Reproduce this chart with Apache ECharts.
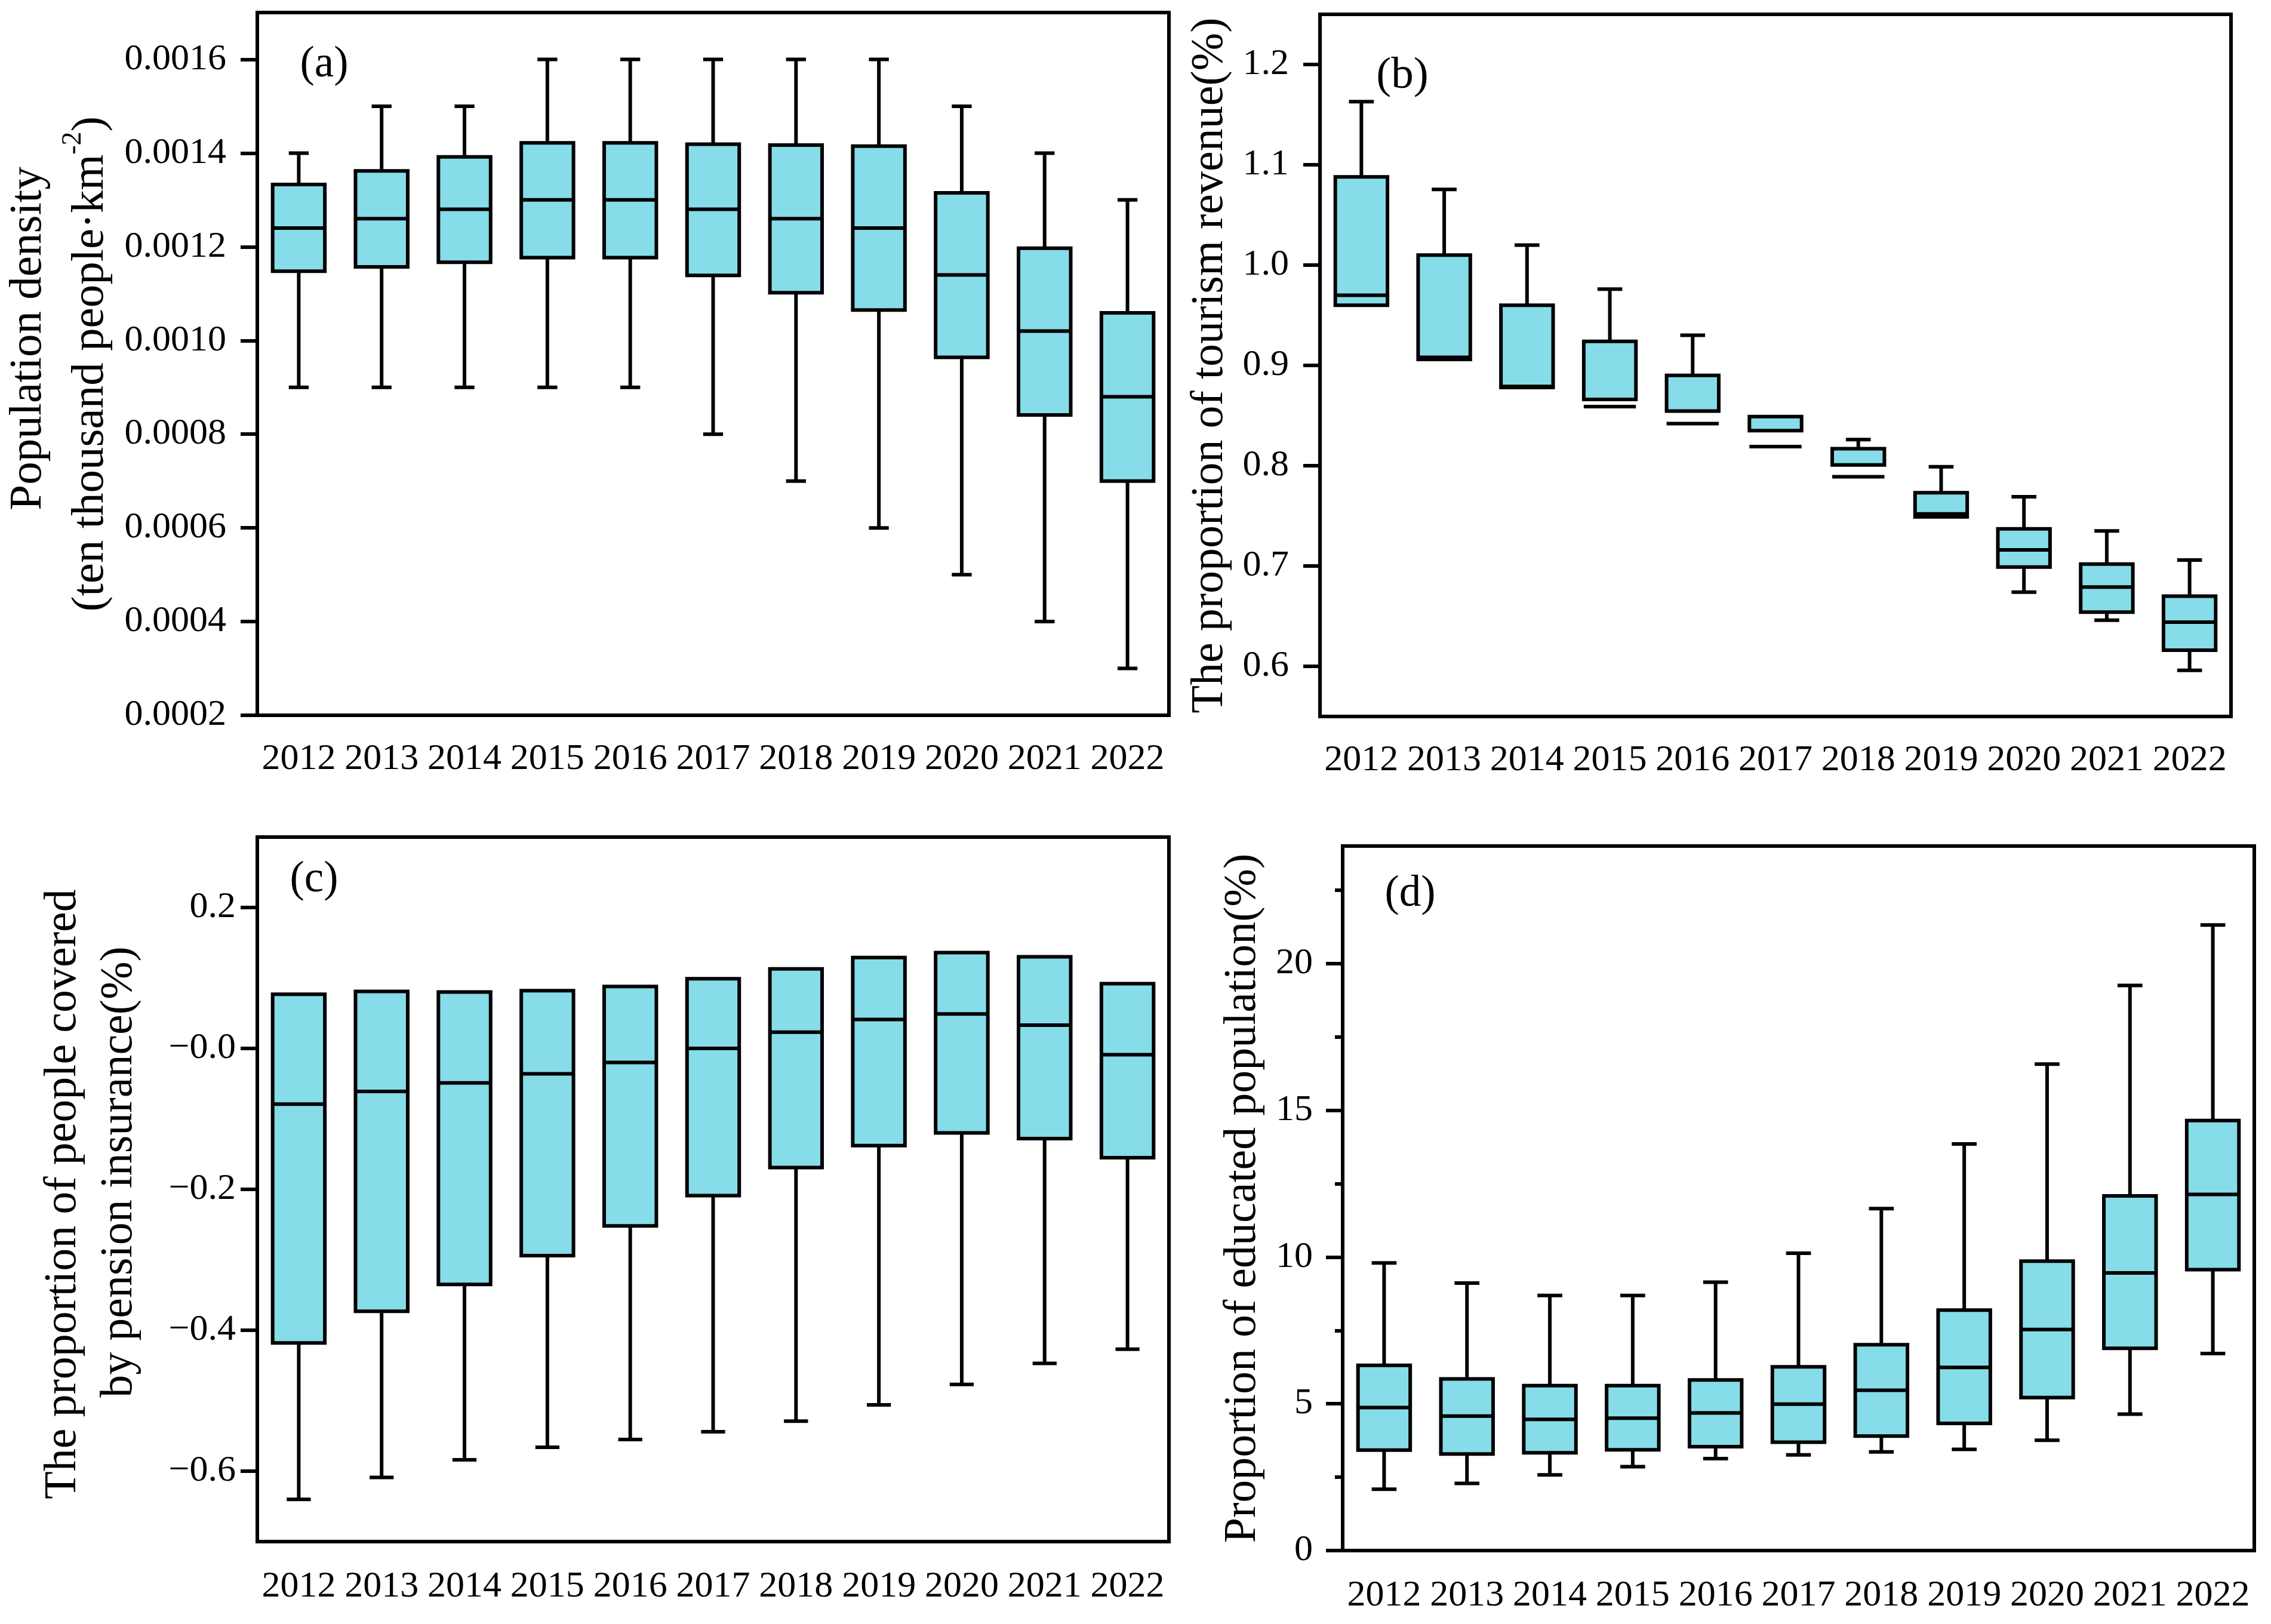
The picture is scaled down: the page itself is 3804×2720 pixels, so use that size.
<!DOCTYPE html>
<html>
<head>
<meta charset="utf-8">
<script src="https://cdn.jsdelivr.net/npm/echarts@6/dist/echarts.min.js"></script>
<style>
html,body{margin:0;padding:0;background:#ffffff;}
#c{width:3804px;height:2720px;}
</style>
</head>
<body>
<div id="c"></div>
<script>
const years = ['2012','2013','2014','2015','2016','2017','2018','2019','2020','2021','2022'];

// (a) Population density
const aMin = [0.0009,0.0009,0.0009,0.0009,0.0009,0.0008,0.0007,0.0006,0.0005,0.0004,0.0003];
const aQ1  = [0.001148,0.001157,0.001167,0.001177,0.001177,0.001139,0.001102,0.001065,0.000964,0.000841,0.0007];
const aMed = [0.00124,0.00126,0.00128,0.0013,0.0013,0.00128,0.00126,0.00124,0.00114,0.00102,0.00088];
const aQ3  = [0.001333,0.001362,0.001392,0.001422,0.001422,0.001419,0.001417,0.001415,0.001315,0.001197,0.001059];
const aMax = [0.0014,0.0015,0.0015,0.0016,0.0016,0.0016,0.0016,0.0016,0.0015,0.0014,0.0013];
const aTicks = [0.0002,0.0004,0.0006,0.0008,0.0010,0.0012,0.0014,0.0016];

// (b) Proportion of tourism revenue
const bMin = [0.960,0.906,0.878,0.866,0.8545,0.835,0.8007,0.749,0.674,0.646,0.596];
const bQ1  = [0.960,0.906,0.878,0.866,0.8545,0.835,0.8007,0.749,0.699,0.654,0.616];
const bMed = [0.970,0.908,0.879,0.859,0.842,0.819,0.789,0.752,0.716,0.679,0.644];
const bQ3  = [1.088,1.010,0.960,0.924,0.890,0.849,0.817,0.773,0.737,0.702,0.670];
const bMax = [1.163,1.0755,1.020,0.976,0.930,0.849,0.826,0.799,0.769,0.735,0.706];
const bTicks = [0.6,0.7,0.8,0.9,1.0,1.1,1.2];

// (c) Proportion of people covered by pension insurance
const cMin = [-0.640,-0.609,-0.584,-0.566,-0.555,-0.544,-0.529,-0.506,-0.477,-0.447,-0.427];
const cQ1  = [-0.418,-0.373,-0.335,-0.294,-0.252,-0.209,-0.169,-0.138,-0.120,-0.128,-0.155];
const cMed = [-0.079,-0.061,-0.049,-0.036,-0.020,0.000,0.023,0.041,0.049,0.033,-0.009];
const cQ3  = [0.077,0.081,0.080,0.082,0.088,0.099,0.113,0.129,0.136,0.130,0.092];
const cMax = [0.077,0.081,0.080,0.082,0.088,0.099,0.113,0.129,0.136,0.130,0.092];
const cTicks = [-0.6,-0.4,-0.2,0,0.2];

// (d) Proportion of educated population
const dMin = [2.09,2.29,2.58,2.86,3.13,3.26,3.36,3.45,3.76,4.65,6.71];
const dQ1  = [3.42,3.29,3.33,3.43,3.54,3.69,3.90,4.33,5.21,6.89,9.57];
const dMed = [4.87,4.58,4.47,4.51,4.69,4.99,5.46,6.24,7.53,9.46,12.13];
const dQ3  = [6.31,5.85,5.62,5.62,5.81,6.26,7.01,8.19,9.86,12.08,14.65];
const dMax = [9.80,9.11,8.69,8.69,9.14,10.13,11.65,13.85,16.57,19.25,21.31];
const dTicks = [0,5,10,15,20];
const dMinorTicks = [2.5,7.5,12.5,17.5,22.5];

const FONT = 'Liberation Serif';
const BOX = '#86dce8';
const LW = 6;

function rows(mn, q1, md, q3, mx) {
  return years.map((y, i) => [i, mn[i], q1[i], md[i], q3[i], mx[i]]);
}

function makeRender(boxFrac, capFrac) {
  return function (params, api) {
    const i = api.value(0);
    const lo = api.value(1), q1 = api.value(2), md = api.value(3), q3 = api.value(4), hi = api.value(5);
    const band = api.size([1, 0])[0];
    const bw = band * boxFrac, cw = band * capFrac;
    const cx = api.coord([i, q1])[0];
    const yLo = api.coord([i, lo])[1];
    const yQ1 = api.coord([i, q1])[1];
    const yMd = api.coord([i, md])[1];
    const yQ3 = api.coord([i, q3])[1];
    const yHi = api.coord([i, hi])[1];
    const ls = { stroke: '#000', lineWidth: LW, fill: null };
    const ch = [];
    if (hi > q3) {
      ch.push({ type: 'line', shape: { x1: cx, y1: yQ3, x2: cx, y2: yHi }, style: ls });
      ch.push({ type: 'line', shape: { x1: cx - cw / 2, y1: yHi, x2: cx + cw / 2, y2: yHi }, style: ls });
    }
    if (lo < q1) {
      ch.push({ type: 'line', shape: { x1: cx, y1: yQ1, x2: cx, y2: yLo }, style: ls });
      ch.push({ type: 'line', shape: { x1: cx - cw / 2, y1: yLo, x2: cx + cw / 2, y2: yLo }, style: ls });
    }
    ch.push({ type: 'rect', shape: { x: cx - bw / 2, y: yQ3, width: bw, height: yQ1 - yQ3 },
      style: { fill: BOX, stroke: '#000', lineWidth: LW } });
    ch.push({ type: 'line', shape: { x1: cx - bw / 2, y1: yMd, x2: cx + bw / 2, y2: yMd }, style: ls });
    return { type: 'group', children: ch };
  };
}

const lineStyle = { color: '#000', width: LW };

function grid(left, top, width, height) {
  return { left, top, width, height, show: true, borderColor: '#000', borderWidth: LW, backgroundColor: 'transparent' };
}

function xAx(g, margin) {
  return {
    type: 'category', gridIndex: g, data: years, boundaryGap: true,
    axisLine: { onZero: false, lineStyle },
    axisTick: { alignWithLabel: true, length: 28, lineStyle },
    axisLabel: { interval: 0, margin, color: '#000', fontSize: 62, fontFamily: FONT },
    splitLine: { show: false }
  };
}

function yAx(g, min, max, interval, ticks, fmt, margin, name, nameGap, nameStyle) {
  return {
    type: 'value', gridIndex: g, min, max, interval, position: 'left',
    axisLine: { show: true, onZero: false, lineStyle },
    axisTick: { show: true, length: 28, customValues: ticks, lineStyle },
    axisLabel: { customValues: ticks, formatter: fmt, margin, color: '#000', fontSize: 62, fontFamily: FONT },
    splitLine: { show: false },
    name, nameLocation: 'middle', nameGap,
    nameTextStyle: Object.assign({ color: '#000', fontSize: 76, fontFamily: FONT }, nameStyle)
  };
}

const fmtC = v => (Math.abs(v) < 1e-9 ? '\u22120.0' : (v < 0 ? '\u2212' + (-v).toFixed(1) : v.toFixed(1)));

const nameA = '{l1|Population density}\n{l2|(ten thousand people\u00b7km}{sup|-2}{l2|)}';
const nameC = '{c1|The proportion of people covered}\n{c2|by pension insurance(%)}';

const option = {
  backgroundColor: '#ffffff',
  animation: false,
  grid: [
    grid(431, 21, 1527, 1177),
    grid(2211, 24, 1526, 1176),
    grid(431, 1402, 1527, 1180),
    grid(2249, 1417, 1527, 1180)
  ],
  xAxis: [xAx(0, 43), xAx(1, 43), xAx(2, 45), xAx(3, 45)],
  yAxis: [
    yAx(0, 0.0002, 0.0017, 0.0001, aTicks, v => v.toFixed(4), 52, nameA, 227, {
      rich: {
        l1: { fontSize: 77, fontFamily: FONT, color: '#000', lineHeight: 104, padding: [0, 0, 0, 85] },
        l2: { fontSize: 77, fontFamily: FONT, color: '#000', lineHeight: 104 },
        sup: { fontSize: 46, fontFamily: FONT, color: '#000', lineHeight: 50, verticalAlign: 'top' }
      }
    }),
    yAx(1, 0.55, 1.25, 0.05, bTicks, v => v.toFixed(1), 52, 'The proportion of tourism revenue(%)', 139, { lineHeight: 90 }),
    yAx(2, -0.7, 0.3, 0.1, cTicks, fmtC, 36, nameC, 184, {
      rich: {
        c1: { fontSize: 76, fontFamily: FONT, color: '#000', lineHeight: 94, padding: [0, 16, 0, 0] },
        c2: { fontSize: 76, fontFamily: FONT, color: '#000', lineHeight: 94, padding: [0, 0, 0, 58] }
      }
    }),
    yAx(3, 0, 24, 2.5, dTicks, v => String(v), 50, 'Proportion of educated population(%)', 122, { lineHeight: 90 }),
    {
      type: 'value', gridIndex: 3, min: 0, max: 24, interval: 2.5, position: 'left', offset: 0,
      axisLine: { show: false },
      axisTick: { show: true, length: 13, customValues: dMinorTicks, lineStyle },
      axisLabel: { show: false },
      splitLine: { show: false }
    }
  ],
  series: [
    { type: 'custom', xAxisIndex: 0, yAxisIndex: 0, renderItem: makeRender(0.63, 0.24),
      encode: { x: 0, y: [1, 2, 3, 4, 5] }, data: rows(aMin, aQ1, aMed, aQ3, aMax) },
    { type: 'custom', xAxisIndex: 1, yAxisIndex: 1, renderItem: makeRender(0.63, 0.30),
      encode: { x: 0, y: [1, 2, 3, 4, 5] }, data: rows(bMin, bQ1, bMed, bQ3, bMax) },
    { type: 'custom', xAxisIndex: 2, yAxisIndex: 2, renderItem: makeRender(0.63, 0.29),
      encode: { x: 0, y: [1, 2, 3, 4, 5] }, data: rows(cMin, cQ1, cMed, cQ3, cMax) },
    { type: 'custom', xAxisIndex: 3, yAxisIndex: 3, renderItem: makeRender(0.63, 0.30),
      encode: { x: 0, y: [1, 2, 3, 4, 5] }, data: rows(dMin, dQ1, dMed, dQ3, dMax) }
  ],
  graphic: [
    { type: 'text', x: 543, y: 109, style: { text: '(a)', fontSize: 73, fontFamily: FONT, fill: '#000', align: 'center', verticalAlign: 'middle' } },
    { type: 'text', x: 2349, y: 127, style: { text: '(b)', fontSize: 75, fontFamily: FONT, fill: '#000', align: 'center', verticalAlign: 'middle' } },
    { type: 'text', x: 526, y: 1474, style: { text: '(c)', fontSize: 73, fontFamily: FONT, fill: '#000', align: 'center', verticalAlign: 'middle' } },
    { type: 'text', x: 2362, y: 1498, style: { text: '(d)', fontSize: 73, fontFamily: FONT, fill: '#000', align: 'center', verticalAlign: 'middle' } }
  ]
};

const chart = echarts.init(document.getElementById('c'), null, { renderer: 'canvas', width: 3804, height: 2720 });
chart.setOption(option);
</script>
</body>
</html>
